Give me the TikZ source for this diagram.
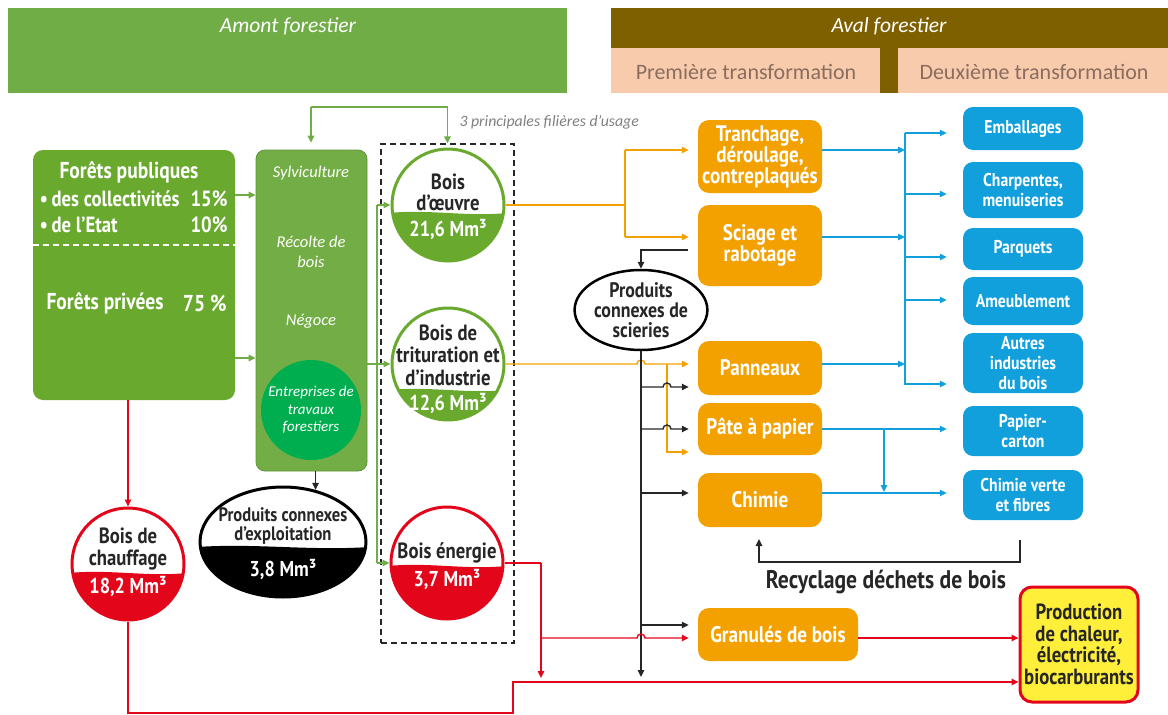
\documentclass[tikz,border=0pt]{standalone}
\usepackage{fontspec}
\setmainfont{Carlito}
\newfontfamily\cf[FakeStretch=0.85]{PT Sans}
\usetikzlibrary{arrows.meta,shapes.geometric,calc}
\definecolor{hdrgreen}{HTML}{70AD47}
\definecolor{fgreen}{HTML}{69A92E}
\definecolor{midgreen}{HTML}{72AE45}
\definecolor{etfgreen}{HTML}{00AE4F}
\definecolor{brn}{HTML}{7F6000}
\definecolor{salmon}{HTML}{F8CBAD}
\definecolor{salmontext}{HTML}{8A6D5E}
\definecolor{orng}{HTML}{F2A100}
\definecolor{blu}{HTML}{12A0DC}
\definecolor{rd}{HTML}{E3061B}
\definecolor{ylw}{HTML}{FFEE3A}
\definecolor{gtxt}{HTML}{7F7F7F}
\newcommand\gfill[6]{%
\begin{scope}
\clip (#1,#2) ellipse ({#3} and {#4});
\fill[#6] ({#1-#3-3},#5) .. controls ({#1-#3/3},{#5-4}) and ({#1+#3/3},{#5+4}) .. ({#1+#3+3},#5) -- ({#1+#3+3},{#2+#4+3}) -- ({#1-#3-3},{#2+#4+3}) -- cycle;
\end{scope}}
\begin{document}
\begin{tikzpicture}[x=1pt,y=-1pt,
 bf/.style 2 args={font=\cf\bfseries\fontsize{#1}{#2}\selectfont},
 itf/.style 2 args={font=\itshape\fontsize{#1}{#2}\selectfont},
 obox/.style={rectangle, rounded corners=11pt, fill=orng, text=white, align=center, inner sep=0pt, minimum width=124pt, bf={22.5}{21}},
 bbox/.style={rectangle, rounded corners=10pt, fill=blu, text=white, align=center, inner sep=0pt, minimum width=120pt, bf={18.5}{20}},
 gcirc/.style={circle, draw=#1, line width=3pt, minimum size=112pt, inner sep=0pt},
 lw/.style={line width=1.4pt},
 arw/.style={-{Triangle[length=7pt,width=6.5pt]}},
 gln/.style={lw, draw=hdrgreen},
 oln/.style={lw, draw=orng},
 bln/.style={lw, draw=blu},
 kln/.style={lw, draw=black!85},
 rln/.style={lw, draw=rd}]
\useasboundingbox (0,0) rectangle (1168,715);
% ---------- headers
\node[fill=hdrgreen, minimum width=559pt, minimum height=85pt, inner sep=0pt, anchor=north west] (amont) at (8,8) {};
\node[text=white, itf={21.5}{23}] (amontt) at (288,26) {Amont forestier};
\node[fill=brn, minimum width=557pt, minimum height=85pt, inner sep=0pt, anchor=north west] (aval) at (611,8) {};
\node[text=white, itf={21.5}{23}] (avalt) at (889,26) {Aval forestier};
\node[fill=salmon, minimum width=269pt, minimum height=45pt, inner sep=0pt, anchor=north west] (p1) at (611,48) {};
\node[fill=salmon, minimum width=270pt, minimum height=45pt, inner sep=0pt, anchor=north west] (p2) at (898,48) {};
\node[text=salmontext, font=\fontsize{22}{24}\selectfont] (p1t) at (746,72) {Première transformation};
\node[text=salmontext, font=\fontsize{22}{24}\selectfont] (p2t) at (1034,72) {Deuxième transformation};
% ---------- left box
\node[rectangle, rounded corners=10pt, fill=fgreen, minimum width=202pt, minimum height=250pt, inner sep=0pt] (foret) at (134,275) {};
\coordinate (dl) at (33,245);
\draw[white, line width=1.2pt, dash pattern=on 6pt off 4pt] (dl) -- (dl -| foret.east);
\node[text=white, bf={23}{25}] (fp) at (129,172) {Forêts publiques};
\node[text=white, bf={22}{25}, anchor=west] (fc) at (36,199) {•\,des collectivités};
\node[text=white, bf={22}{25}, anchor=east] (fc2) at (231,199) {15\%};
\node[text=white, bf={22}{25}, anchor=west] (fe) at (36,225) {•\,de l’Etat};
\node[text=white, bf={22}{25}, anchor=east] (fe2) at (231,225) {10\%};
\node[text=white, bf={23}{25}, anchor=west] (fpr) at (43,303) {Forêts privées};
\node[text=white, bf={23}{25}, anchor=east] (fpr2) at (230,303) {75 \%};
% ---------- middle column
\node[rectangle, rounded corners=9pt, fill=midgreen, draw=hdrgreen!85!black, line width=0.8pt, minimum width=111pt, minimum height=321pt, inner sep=0pt] (mid) at (311.5,310.5) {};
\node[text=white, itf={16.5}{20}] (sy) at (311,173) {Sylviculture};
\node[text=white, itf={16.5}{20}, align=center] (rec1) at (311,252) {Récolte de\\bois};
\node[text=white, itf={16.5}{20}] (ng) at (311,321) {Négoce};
\node[circle, fill=etfgreen, minimum size=100pt, inner sep=0pt, align=center, text=white, itf={15}{17.5}] (etf) at (311,410) {Entreprises de\\travaux\\forestiers};
% ---------- dashed box
\node[draw=black!85, line width=1.3pt, dash pattern=on 6pt off 4pt, minimum width=133pt, minimum height=499pt, inner sep=0pt] (fil) at (447.5,393.5) {};
\node[anchor=west, text=gtxt, itf={15.8}{17}] (lbl) at (456,122) {3 principales filières d’usage};
% ---------- gauges
\gfill{448}{205}{56}{56}{213}{fgreen}
\node[gcirc=fgreen] (bo) at (448,205) {};
\node[bf={22}{21}, text=black!85, align=center] (bo1) at (448,192) {Bois\\d’œuvre};
\node[bf={21.5}{22}, text=white] (bo2) at (448,229) {21,6 Mm³};
\gfill{448}{364}{56}{56}{390}{fgreen}
\node[gcirc=fgreen] (bt) at (448,364) {};
\node[bf={22}{22.5}, text=black!85, align=center] (bt1) at (448,355) {Bois de\\trituration et\\d’industrie};
\node[bf={21.5}{22}, text=white] (bt2) at (448,403) {12,6 Mm³};
\gfill{447}{563}{56}{56}{566}{rd}
\node[gcirc=rd] (be) at (447,563) {};
\node[bf={22}{22}, text=black!85] (be1) at (447,553) {Bois énergie};
\node[bf={21.5}{22}, text=white] (be2) at (447,579) {3,7 Mm³};
\gfill{128}{564}{56}{56}{573}{rd}
\node[gcirc=rd] (bc) at (128,564) {};
\node[bf={22}{22}, text=black!85, align=center] (bc1) at (128,549) {Bois de\\chauffage};
\node[bf={21.5}{22}, text=white] (bc2) at (128,586) {18,2 Mm³};
\gfill{283}{542}{83}{55}{547}{black}
\node[ellipse, draw=black, line width=3pt, minimum width=166pt, minimum height=110pt, inner sep=0pt] (pce) at (283,542) {};
\node[bf={19.5}{19}, text=black!85, align=center] (pce1) at (283,526) {Produits connexes\\d’exploitation};
\node[bf={21.5}{22}, text=white] (pce2) at (283,569) {3,8 Mm³};
\node[ellipse, draw=black, line width=2.5pt, minimum width=106pt, minimum height=80pt, inner sep=0pt, align=center, bf={21}{20}, text=black!85] (pcs) at (641,310) {Produits\\connexes de\\scieries};
% ---------- orange boxes
\node[obox, minimum height=73pt] (tr) at (760,156.5) {Tranchage,\\déroulage,\\contreplaqués};
\node[obox, minimum height=81pt] (sc) at (760,245.5) {Sciage et\\rabotage};
\node[obox, minimum height=54pt] (pa) at (760,368) {Panneaux};
\node[obox, minimum height=52pt] (pp) at (760,429) {Pâte à papier};
\node[obox, minimum height=54pt] (ch) at (760,500) {Chimie};
\node[obox, minimum width=160pt, minimum height=53pt] (gr) at (778,634.5) {Granulés de bois};
% ---------- blue boxes
\node[bbox, minimum height=43pt] (em) at (1023,128.5) {Emballages};
\node[bbox, minimum height=56pt] (cm) at (1023,190) {Charpentes,\\menuiseries};
\node[bbox, minimum height=42pt] (pq) at (1023,249) {Parquets};
\node[bbox, minimum height=48pt] (am) at (1023,301) {Ameublement};
\node[bbox, minimum height=60pt] (au) at (1023,363) {Autres\\industries\\du bois};
\node[bbox, minimum height=50pt] (pc) at (1023,431) {Papier-\\carton};
\node[bbox, minimum height=50pt] (cv) at (1023,495) {Chimie verte\\et fibres};
% ---------- production
\node[rectangle, rounded corners=12pt, fill=ylw, draw=rd, line width=3pt, minimum width=118pt, minimum height=115pt, inner sep=0pt, align=center, bf={22}{21.5}, text=black!85] (prod) at (1079,644.5) {Production\\de chaleur,\\électricité,\\biocarburants};
% ---------- green connectors
\coordinate (gt) at (311,107);
\coordinate (gv1) at (377,205);
\coordinate (gv2) at (377,563);
\coordinate (fa1) at (235,195);
\coordinate (fa2) at (235,358);
\draw[gln, arw, shorten >=7pt] (gt) -- (gt |- mid.north);
\draw[gln, arw] (gt) -| (fil.north);
\draw[gln, arw] (fa1) -- (fa1 -| mid.west);
\draw[gln, arw] (fa2) -- (fa2 -| mid.west);
\draw[gln] (gv1) -- (gv2);
\draw[gln, arw] (mid.east |- bt) -- (bt.west);
\draw[gln, arw] (gv1) -- (bo.west);
\draw[gln, arw] (gv2) -- (be.west);
% ---------- orange connectors
\coordinate (oj) at (625,205);
\coordinate (oj1) at (625,150);
\coordinate (oj2) at (625,237);
\draw[oln] (bo.east) -- (oj);
\draw[oln] (oj1) -- (oj2);
\draw[oln, arw, shorten >=9pt] (oj1) -- (oj1 -| tr.west);
\draw[oln, arw, shorten >=9pt] (oj2) -- (oj2 -| sc.west);
\coordinate (oh) at (637,364);
\draw[oln, arw, shorten >=9pt] (bt.east) -- (oh) arc (180:360:4) -- (oh -| pa.west);
\coordinate (obr) at (667,364);
\coordinate (obr2) at (667,452);
\draw[oln, arw, shorten >=9pt] (obr) -- (obr2) -- (obr2 -| pp.west);
% ---------- black connectors
\coordinate (ks) at (sc.west |- 0,250);
\coordinate (kt) at (641,677);
\draw[kln, arw, shorten <=10pt] (ks) -| (pcs.north);
\draw[kln, arw] (pcs.south) -- (kt);
\coordinate (k1) at (641,387);
\coordinate (k2) at (641,429);
\coordinate (k3) at (641,493);
\coordinate (k4) at (641,625);
\draw[kln, arw, shorten >=9pt] (k1) -- ++(22,0) arc (180:360:4) -- (k1 -| pa.west);
\draw[kln, arw, shorten >=9pt] (k2) -- ++(22,0) arc (180:360:4) -- (k2 -| pp.west);
\draw[kln, arw, shorten >=9pt] (k3) -- (k3 -| ch.west);
\draw[kln, arw, shorten >=9pt] (k4) -- (k4 -| gr.west);
\draw[kln, arw] (mid.south -| pce.58) -- (pce.58);
% recycling
\coordinate (rc1) at (1020,540);
\coordinate (rc2) at (1020,562);
\coordinate (rc3) at (759,562);
\coordinate (rc4) at (759,539);
\draw[kln, arw] (rc1) -- (rc2) -- (rc3) -- (rc4);
\node[bf={25.5}{26}, text=black!85] (rcy) at (886,582) {Recyclage déchets de bois};
% ---------- red connectors
\draw[rln, arw] (foret.south -| bc) -- (bc.north);
\coordinate (rb) at (128,713);
\coordinate (rcc) at (513,713);
\coordinate (rdd) at (513,682);
\draw[rln, arw] (bc.south) -- (rb) -- (rcc) -- (rdd) -- (rdd -| prod.west);
\coordinate (re) at (541,563);
\coordinate (re2) at (541,678);
\draw[rln] (be.east) -- (re);
\draw[rln, arw] (re) -- (re2);
\coordinate (rg) at (541,638);
\draw[rln, arw, shorten >=9pt] (rg) -- ++(96,0) arc (180:360:4) -- (rg -| gr.west);
\draw[rln, arw] (gr.east |- rg) -- (rg -| prod.west);
% ---------- blue connectors
\coordinate (bv1) at (905,133);
\coordinate (bv2) at (905,385);
\draw[bln] (bv1) -- (bv2);
\draw[bln, arw] (oj1 -| tr.east) -- (oj1 -| bv1);
\draw[bln, arw] (oj2 -| sc.east) -- (oj2 -| bv1);
\draw[bln, arw] (oh -| pa.east) -- (oh -| bv1);
\foreach \n/\yy in {em/133, cm/194, pq/257, am/300, au/384}{
  \coordinate (bvy) at (905,\yy);
  \draw[bln, arw, shorten >=16pt] (bvy) -- (bvy -| \n.west);
}
\draw[bln, arw, shorten >=16pt] (pp.east) -- (pp.east -| pc.west);
\coordinate (bj) at (884,429);
\coordinate (bj2) at (884,493);
\draw[bln, arw, shorten >=1pt] (bj) -- (bj2);
\draw[bln, arw, shorten >=16pt] (k3 -| ch.east) -- (k3 -| cv.west);
\end{tikzpicture}
\end{document}
